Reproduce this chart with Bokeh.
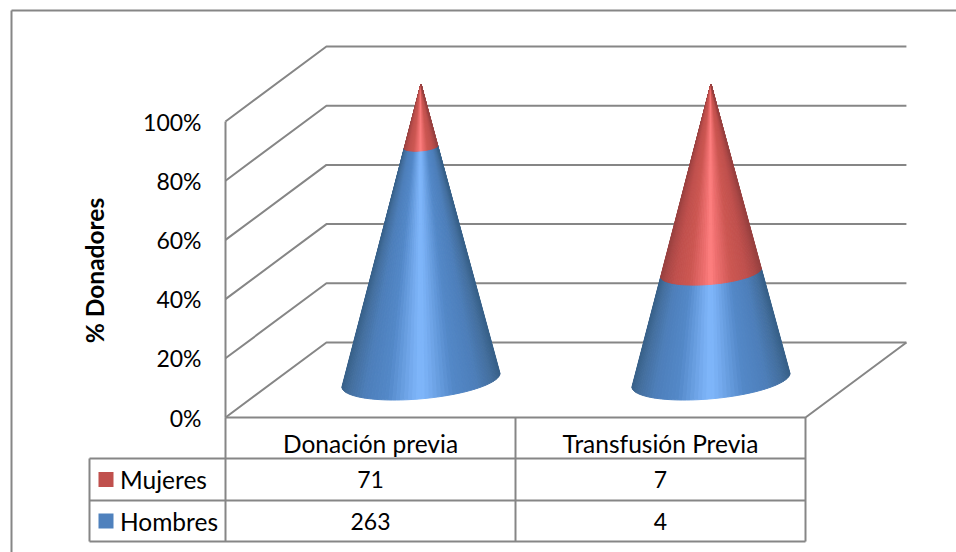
import numpy as np
from bokeh.plotting import figure
from bokeh.embed import file_html
from bokeh.resources import INLINE
from bokeh.core.properties import value

categories = ["Donación previa", "Transfusión Previa"]
series_names = ["Mujeres", "Hombres"]
mujeres = [71, 7]
hombres = [263, 4]
y_ticks = [0, 20, 40, 60, 80, 100]
y_labels = ["0%", "20%", "40%", "60%", "80%", "100%"]
y_title = "% Donadores"

FONT = value("Lato")
GRID = "#868686"
BLUE_SWATCH = "#4f81bd"
RED_SWATCH = "#c0504d"

# scale: one category = 290 px, one percent = 2.96 px; the figure fills the page
PX_X, PX_Y = 290.0, 2.96
W, H = 956, 552
x0 = (0 - 225) / PX_X
y1 = (417 - 0) / PX_Y
p = figure(width=W, height=H, output_backend="svg", toolbar_location=None,
           x_range=(x0, x0 + W / PX_X), y_range=(y1 - H / PX_Y, y1),
           min_border=0, outline_line_color=None)
p.axis.visible = False
p.grid.visible = False
p.background_fill_color = "white"
p.border_fill_color = "white"

def ppx(x):
    return (x - 225) / PX_X
def ppy(y):
    return (417 - y) / PX_Y

# outer chart frame (only top and left edges are visible in the picture)
p.line([ppx(11), ppx(11)], [ppy(556), ppy(10)], line_color=GRID, line_width=2)
p.line([ppx(11), ppx(960)], [ppy(10), ppy(10)], line_color=GRID, line_width=2)

# 3D box
n = len(categories)
DX, DY = 0.348, 75 / PX_Y
for t in y_ticks:
    p.line([0, DX, n + DX], [t, t + DY, t + DY], line_color=GRID, line_width=2)
p.line([0, 0], [0, 100], line_color=GRID, line_width=2)
p.line([0, n, n + DX], [0, 0, DY], line_color=GRID, line_width=2)

# cones
A = 0.256
K = 0.267
HI_S = [0.0, 0.12, 0.42, 0.72, 0.90, 1.0]
BLUE_S = ["#80b8fc", "#75abef", "#5388c8", "#4d7eb9", "#446f9f", "#386189"]
RED_S = ["#ff8080", "#ef7070", "#cc5752", "#c0504d", "#ab4846", "#984140"]

def rgb(h):
    return [int(h[i:i + 2], 16) for i in (1, 3, 5)]

def shade(stops, s):
    arr = np.array([rgb(c) for c in stops], float)
    c = [np.interp(abs(s), HI_S, arr[:, i]) for i in range(3)]
    return "#%02x%02x%02x" % tuple(int(round(v)) for v in c)

def ring(cx, by, theta, frac):
    r = 1 - frac
    h = frac * 100
    return (cx + r * (A * np.cos(theta) + K * DX * np.sin(theta)),
            by + h + r * K * DY * np.sin(theta))

for i in range(n):
    cx = i + 0.5 + DX / 2
    by = DY / 2
    total = mujeres[i] + hombres[i]
    split = hombres[i] / total
    tan_t = np.arctan2(K * DX, A)
    half = np.hypot(A, K * DX)
    thetas = np.linspace(np.pi + tan_t, 2 * np.pi + tan_t, 61)
    for lo, hi, stops in [(0.0, split, BLUE_S), (split, 1.0, RED_S)]:
        xs, ys, cols = [], [], []
        for a, b in zip(thetas[:-1], thetas[1:]):
            xa0, ya0 = ring(cx, by, a, lo)
            xb0, yb0 = ring(cx, by, b, lo)
            xa1, ya1 = ring(cx, by, a, hi)
            xb1, yb1 = ring(cx, by, b, hi)
            xs.append([xa0, xb0, xb1, xa1])
            ys.append([ya0, yb0, yb1, ya1])
            xm, _ = ring(cx, by, (a + b) / 2, 0.0)
            cols.append(shade(stops, (xm - cx) / half))
        p.patches(xs, ys, fill_color=cols, line_color=cols, line_width=1)

# data table
ROW = [ppy(458), ppy(500), ppy(541)]
LEFT = ppx(89)
for xv in range(n + 1):
    p.line([xv, xv], [0, ROW[2]], line_color=GRID, line_width=2)
p.line([LEFT, n], [ROW[0], ROW[0]], line_color=GRID, line_width=2)
p.line([LEFT, n], [ROW[1], ROW[1]], line_color=GRID, line_width=2)
p.line([LEFT, n], [ROW[2], ROW[2]], line_color=GRID, line_width=2)
p.line([LEFT, LEFT], [ROW[0], ROW[2]], line_color=GRID, line_width=2)

WORDS = dict(text_font=FONT, text_font_size="24.5px", text_color="#000000", text_baseline="middle")
NUMS = dict(text_font=FONT, text_font_size="23px", text_color="#000000", text_baseline="middle")
mid = [(ROW[0] + ROW[1]) / 2, (ROW[1] + ROW[2]) / 2]
word_mid = [ppy(478.5), ppy(520.5)]
p.text([i + 0.5 for i in range(n)], [ppy(443)] * n, text=categories, text_align="center", **WORDS)
p.text([i + 0.5 for i in range(n)], [mid[0]] * n, text=[str(v) for v in mujeres], text_align="center", **NUMS)
p.text([i + 0.5 for i in range(n)], [mid[1]] * n, text=[str(v) for v in hombres], text_align="center", **NUMS)
p.text([ppx(119.5)] * 2, word_mid, text=series_names, text_align="left", **WORDS)
p.scatter([ppx(105.5)] * 2, mid, marker="square", size=15,
          fill_color=[RED_SWATCH, BLUE_SWATCH], line_color=None)

# value axis labels and title
p.text([ppx(201)] * len(y_ticks), y_ticks, text=y_labels, text_align="right", **NUMS)
p.text([ppx(94)], [ppy(270)], text=[y_title], angle=np.pi / 2, text_align="center",
       text_baseline="middle", text_font=FONT, text_font_size="24.5px",
       text_font_style="bold", text_color="#000000")

open("out.html", "w").write(file_html(p, INLINE))
